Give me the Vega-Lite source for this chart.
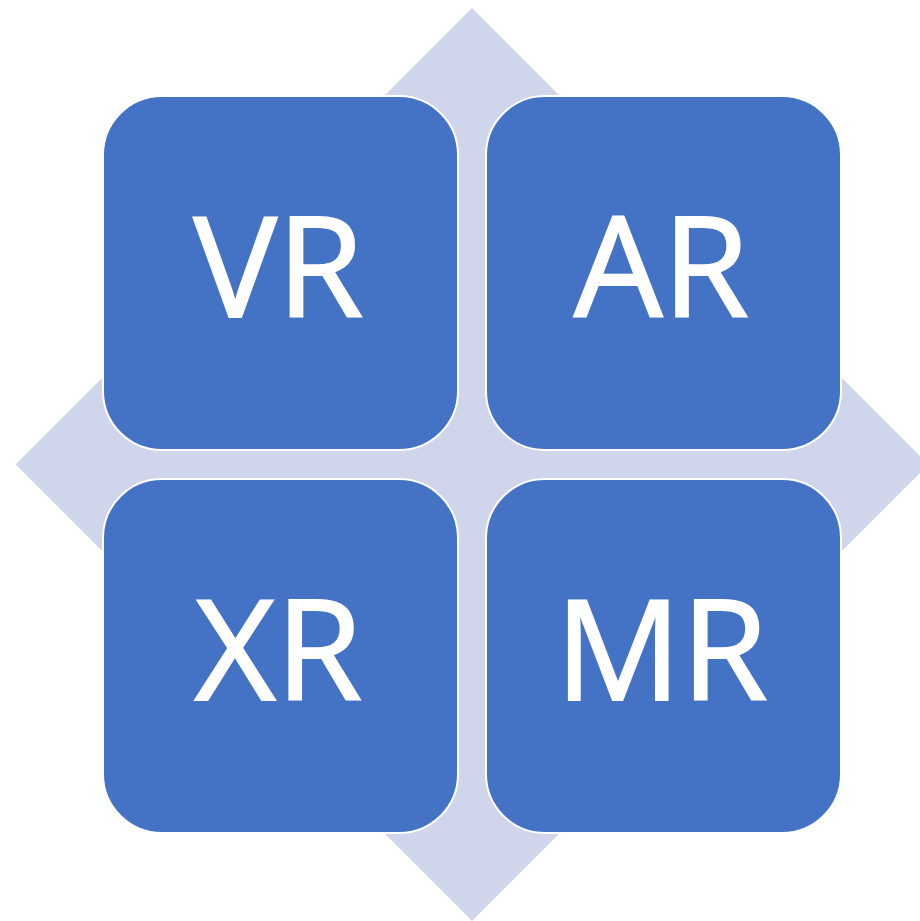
{
  "$schema": "https://vega.github.io/schema/vega-lite/v6.json",
  "width": 920,
  "height": 921,
  "padding": 0,
  "autosize": {"type": "none"},
  "background": "#ffffff",
  "config": {"view": {"stroke": null}},
  "data": {"values": [
    {"label": "VR", "col": 0, "row": 0},
    {"label": "AR", "col": 1, "row": 0},
    {"label": "XR", "col": 0, "row": 1},
    {"label": "MR", "col": 1, "row": 1}
  ]},
  "layer": [
    {
      "mark": {"type": "point", "shape": "diamond", "filled": true, "size": 831744, "fill": "#CFD5EA", "opacity": 1, "strokeWidth": 0},
      "encoding": {
        "x": {"datum": 0.5, "type": "quantitative", "scale": {"domain": [-0.73238, 1.66971], "nice": false, "zero": false}, "axis": null},
        "y": {"datum": 0.5, "type": "quantitative", "scale": {"domain": [-0.71279, 1.69191], "nice": false, "zero": false, "reverse": true}, "axis": null}
      }
    },
    {
      "mark": {"type": "rect", "fill": "#4472C4", "stroke": "#ffffff", "strokeWidth": 2, "cornerRadius": 59, "xOffset": -177.5, "x2Offset": 177.5, "yOffset": -177, "y2Offset": 177},
      "encoding": {
        "x": {"field": "col", "type": "quantitative", "axis": null},
        "x2": {"field": "col"},
        "y": {"field": "row", "type": "quantitative", "axis": null},
        "y2": {"field": "row"}
      }
    },
    {
      "mark": {"type": "text", "font": "Open Sans", "fontSize": 140, "fontWeight": "normal", "fill": "#ffffff", "stroke": "#ffffff", "strokeWidth": 2, "align": "center", "baseline": "alphabetic", "dy": 44, "dx": -2},
      "encoding": {
        "x": {"field": "col", "type": "quantitative", "axis": null},
        "y": {"field": "row", "type": "quantitative", "axis": null},
        "text": {"field": "label"}
      }
    }
  ]
}
